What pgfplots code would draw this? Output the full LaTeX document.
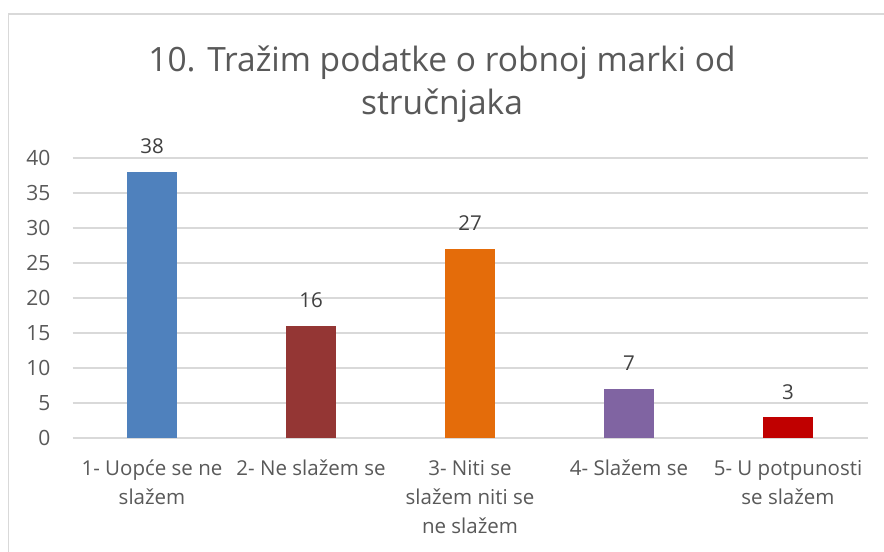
\documentclass[border=0pt]{standalone}
\usepackage{fontspec}
\setmainfont{Open Sans}
\usepackage{pgfplots}
\pgfplotsset{compat=1.18}
\definecolor{gridc}{HTML}{D9D9D9}
\definecolor{txt}{HTML}{595959}
\definecolor{lbl}{HTML}{404040}
\definecolor{cA}{HTML}{4F81BD}
\definecolor{cB}{HTML}{943634}
\definecolor{cC}{HTML}{E46C0A}
\definecolor{cD}{HTML}{8064A2}
\definecolor{cE}{HTML}{C00000}
\begin{document}
\begin{tikzpicture}
\path[use as bounding box] (0,0) rectangle (884bp,552bp);
\fill[white] (0,0) rectangle (884bp,552bp);
\draw[gridc, line width=1.3bp] (8.5bp,-5bp) -- (8.5bp,538bp) -- (890bp,538bp);
\node[txt, font=\fontsize{33.5bp}{40bp}\selectfont, anchor=base] at (442bp,480bp) {10. Tražim podatke o robnoj marki od};
\node[txt, font=\fontsize{33.5bp}{40bp}\selectfont, anchor=base] at (442bp,437bp) {stručnjaka};
\begin{axis}[
  at={(72.5bp,114bp)}, anchor=south west,
  scale only axis, width=795bp, height=280bp,
  xmin=-0.5, xmax=4.5, ymin=0, ymax=40,
  axis line style={draw=none},
  ytick={0,5,...,40},
  ymajorgrids, grid style={gridc, line width=1.3bp},
  major tick length=0pt,
  xtick={0,1,2,3,4},
  xticklabels={{1- Uopće se ne\\slažem},{2- Ne slažem se},{3- Niti se\\slažem niti se\\ne slažem},{4- Slažem se},{5- U potpunosti\\se slažem}},
  xticklabel style={txt, font=\fontsize{20.5bp}{29bp}\selectfont, align=center, anchor=north, inner sep=0pt, yshift=-22bp},
  yticklabel style={txt, font=\fontsize{21bp}{24bp}\selectfont, anchor=east, inner sep=0pt, xshift=-22bp},
  /pgf/number format/assume math mode=true,
  ybar, bar width=50bp, bar shift=0pt,
  nodes near coords,
  nodes near coords style={lbl, font=\fontsize{20.5bp}{24bp}\selectfont, anchor=base, inner sep=0pt, yshift=18bp},
]
\addplot[fill=cA, draw=none] coordinates {(0,38)};
\addplot[fill=cB, draw=none] coordinates {(1,16)};
\addplot[fill=cC, draw=none] coordinates {(2,27)};
\addplot[fill=cD, draw=none] coordinates {(3,7)};
\addplot[fill=cE, draw=none] coordinates {(4,3)};
\end{axis}
\end{tikzpicture}
\end{document}
